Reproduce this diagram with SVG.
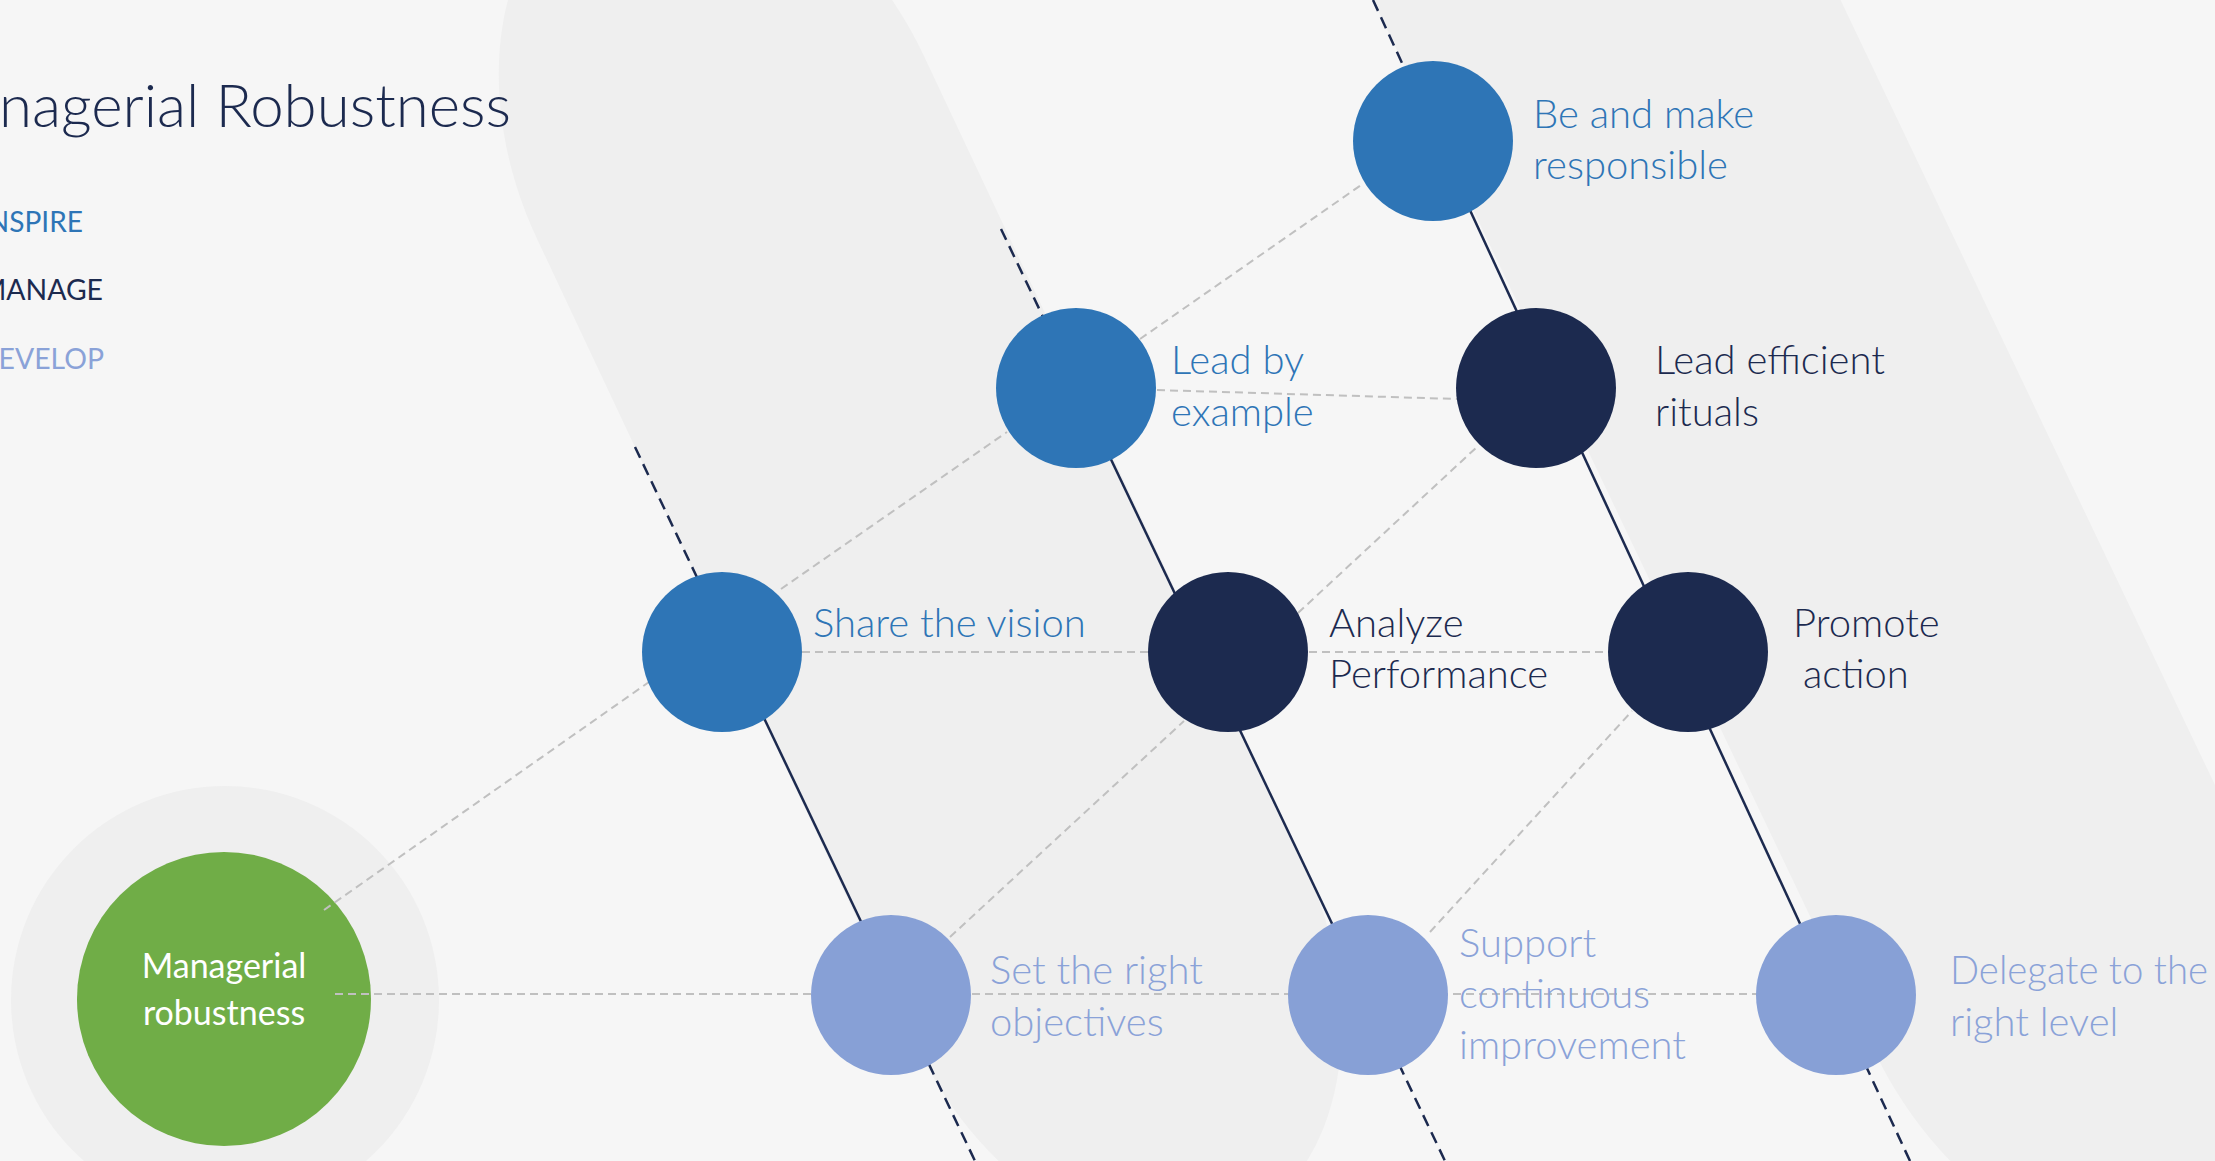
<svg xmlns="http://www.w3.org/2000/svg" width="2215" height="1161" viewBox="0 0 2215 1161">
<style>
.lbl{font-family:Lato,"Liberation Sans",sans-serif;font-weight:300;font-size:40px}
.leg{font-family:Lato,"Liberation Sans",sans-serif;font-size:29px}
.ins{fill:#2e75b6}
.man{fill:#1c2a4f}
.dev{fill:#87a0d6}
.grn{fill:#70ad47}
.tins{fill:#2e75b6}
.tman{fill:#1c2a4f}
.tdev{fill:#8aa2d8}
.gray{stroke:#c0c0c0;stroke-width:2;stroke-dasharray:8 5;fill:none}
.navyd{stroke:#1c2a4f;stroke-width:2.5;stroke-dasharray:12 7;fill:none}
.navys{stroke:#1c2a4f;stroke-width:2.5;fill:none}
.band{fill:#efefef}
</style>
<rect x="0" y="0" width="2215" height="1161" fill="#f6f6f6"/>
<g id="background">
<rect class="band" x="0" y="-530" width="428" height="1490" rx="214" ry="300" transform="translate(635,447) rotate(-25.2)"/>
<rect class="band" x="0" y="-500" width="422" height="1965" rx="211" ry="300" transform="translate(1373,0) rotate(-25.5)"/>
<circle cx="225" cy="1000" r="214" fill="#efefef"/>
</g>
<g id="title">
<text x="511" y="127" text-anchor="end" font-family="Lato, 'Liberation Sans', sans-serif" font-weight="300" font-size="60" fill="#1c2a4f">Managerial Robustness</text>
<text class="leg tins" x="-20" y="232" textLength="103" lengthAdjust="spacingAndGlyphs">INSPIRE</text>
<text class="leg tman" x="-20" y="300" textLength="123" lengthAdjust="spacingAndGlyphs">MANAGE</text>
<text class="leg tdev" x="-23" y="369" textLength="127" lengthAdjust="spacingAndGlyphs">DEVELOP</text>
</g>
<g id="node-managerial-robustness">
<circle class="grn" cx="224" cy="999" r="147"/>
<text font-family="Lato, 'Liberation Sans', sans-serif" font-size="34" fill="#ffffff" text-anchor="middle"><tspan x="224" y="978">Managerial</tspan><tspan x="224" y="1025">robustness</tspan></text>
</g>
<g id="connectors">
<line class="gray" x1="335" y1="994" x2="1757" y2="994"/>
<line class="gray" x1="324" y1="910" x2="649" y2="682"/>
<line class="gray" x1="781" y1="589" x2="1007" y2="432"/>
<line class="gray" x1="1140" y1="339" x2="1364" y2="183"/>
<line class="gray" x1="1157" y1="390" x2="1457" y2="399"/>
<line class="gray" x1="802" y1="652" x2="1609" y2="652"/>
<line class="gray" x1="950" y1="937" x2="1184" y2="721"/>
<line class="gray" x1="1298" y1="613" x2="1478" y2="446"/>
<line class="gray" x1="1430" y1="932" x2="1632" y2="711"/>
<line class="navyd" x1="635" y1="447" x2="733" y2="653"/>
<line class="navys" x1="733" y1="653" x2="896" y2="995"/>
<line class="navyd" x1="896" y1="995" x2="975" y2="1161"/>
<line class="navyd" x1="1001" y1="229" x2="1077" y2="388"/>
<line class="navys" x1="1077" y1="388" x2="1366" y2="995"/>
<line class="navyd" x1="1366" y1="995" x2="1445" y2="1161"/>
<line class="navyd" x1="1373" y1="0" x2="1438" y2="141"/>
<line class="navys" x1="1438" y1="141" x2="1833" y2="995"/>
<line class="navyd" x1="1833" y1="995" x2="1910" y2="1161"/>
</g>
<g id="node-share-vision">
<circle class="ins" cx="722" cy="652" r="80"/>
<text class="lbl tins" x="813" y="637">Share the vision</text>
</g>
<g id="node-lead-by-example">
<circle class="ins" cx="1076" cy="388" r="80"/>
<text class="lbl tins"><tspan x="1171" y="374">Lead by</tspan><tspan x="1171" y="426">example</tspan></text>
</g>
<g id="node-be-responsible">
<circle class="ins" cx="1433" cy="141" r="80"/>
<text class="lbl tins"><tspan x="1533" y="128">Be and make</tspan><tspan x="1533" y="179">responsible</tspan></text>
</g>
<g id="node-lead-rituals">
<circle class="man" cx="1536" cy="388" r="80"/>
<text class="lbl tman"><tspan x="1655" y="374">Lead efficient</tspan><tspan x="1655" y="426">rituals</tspan></text>
</g>
<g id="node-analyze">
<circle class="man" cx="1228" cy="652" r="80"/>
<text class="lbl tman"><tspan x="1329" y="637">Analyze</tspan><tspan x="1329" y="688">Performance</tspan></text>
</g>
<g id="node-promote">
<circle class="man" cx="1688" cy="652" r="80"/>
<text class="lbl tman"><tspan x="1793" y="637">Promote</tspan><tspan x="1803" y="688">action</tspan></text>
</g>
<g id="node-set-objectives">
<circle class="dev" cx="891" cy="995" r="80"/>
<text class="lbl tdev"><tspan x="990" y="984">Set the right</tspan><tspan x="990" y="1036">objectives</tspan></text>
</g>
<g id="node-support">
<circle class="dev" cx="1368" cy="995" r="80"/>
<text class="lbl tdev"><tspan x="1459" y="957">Support</tspan><tspan x="1459" y="1008">continuous</tspan><tspan x="1459" y="1059">improvement</tspan></text>
</g>
<g id="node-delegate">
<circle class="dev" cx="1836" cy="995" r="80"/>
<text class="lbl tdev"><tspan x="1950" y="984" textLength="258" lengthAdjust="spacingAndGlyphs">Delegate to the</tspan><tspan x="1950" y="1036">right level</tspan></text>
</g>
</svg>
